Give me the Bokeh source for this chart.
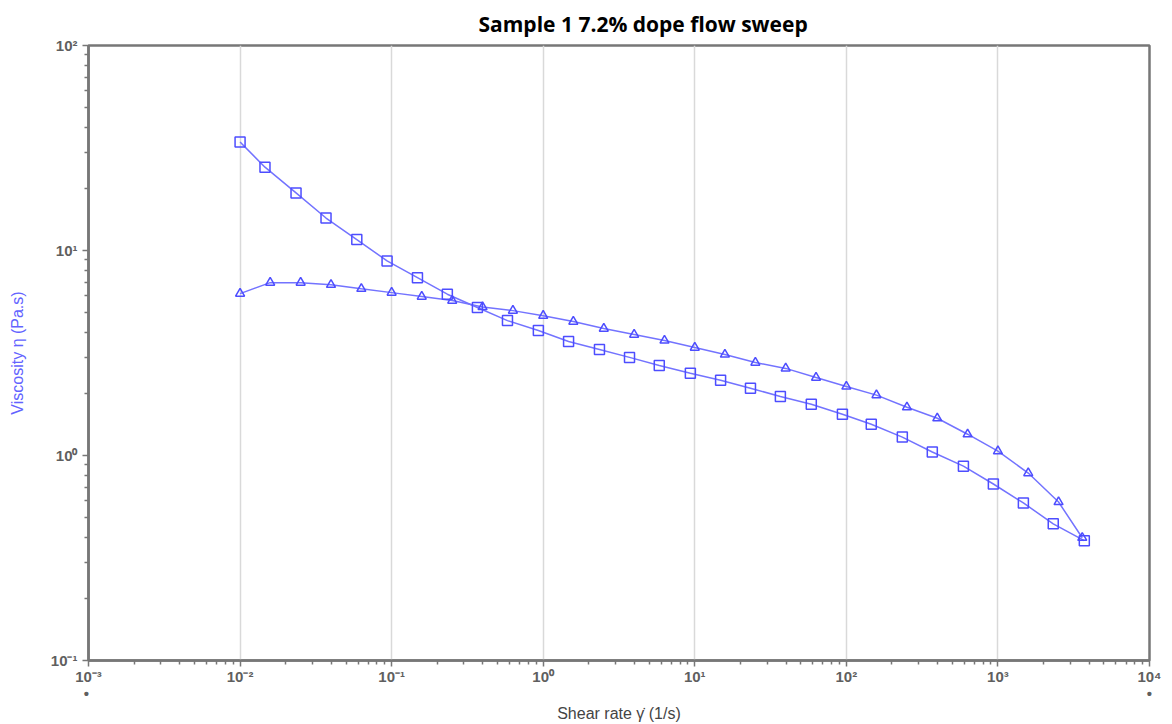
from bokeh.plotting import figure
from bokeh.models import FixedTicker, Range1d
from bokeh.embed import file_html
from bokeh.resources import INLINE

# ---- data ----
shear_sq = [0.01, 0.0146, 0.0234, 0.0369, 0.0589, 0.0933, 0.148, 0.233, 0.368, 0.581,
            0.929, 1.47, 2.35, 3.71, 5.83, 9.35, 14.8, 23.3, 36.7, 58.7,
            94.2, 146, 234, 369, 592, 933, 1472, 2317, 3715]
visc_sq = [33.8, 25.5, 19.1, 14.4, 11.3, 8.9, 7.37, 6.12, 5.27, 4.55,
           4.07, 3.60, 3.29, 3.01, 2.75, 2.52, 2.33, 2.13, 1.94, 1.78,
           1.59, 1.42, 1.23, 1.04, 0.887, 0.726, 0.587, 0.464, 0.384]

shear_tri = [0.01, 0.0158, 0.0251, 0.0398, 0.0631, 0.1, 0.158, 0.251, 0.398, 0.631,
             1.0, 1.58, 2.51, 3.98, 6.31, 10, 15.8, 25.1, 39.8, 63.1,
             100, 158, 251, 398, 631, 1000, 1585, 2512, 3600]
visc_tri = [6.16, 6.97, 6.97, 6.81, 6.51, 6.23, 5.96, 5.70, 5.30, 5.09,
            4.81, 4.50, 4.16, 3.89, 3.64, 3.36, 3.11, 2.84, 2.66, 2.40,
            2.17, 1.97, 1.72, 1.52, 1.27, 1.05, 0.821, 0.593, 0.397]

x_ticks = [1e-3, 1e-2, 1e-1, 1e0, 1e1, 1e2, 1e3, 1e4]
x_tick_labels = ["10⁻³\n •", "10⁻²", "10⁻¹", "10⁰", "10¹", "10²", "10³", "10⁴\n•"]
y_ticks = [1e-1, 1e0, 1e1, 1e2]
y_tick_labels = ["10⁻¹", "10⁰", "10¹", "10²"]

title_text = "Sample 1 7.2% dope flow sweep"
x_label = "Shear rate γ̇ (1/s)"
y_label = "Viscosity η (Pa.s)"

BLUE_LINE = "#7373ff"
BLUE_MARK = "#4d4dff"
AXIS = "#777777"
TICKLAB = "#5f5f5f"

p = figure(width=1172, height=724, x_axis_type="log", y_axis_type="log",
           x_range=Range1d(1e-3, 1e4), y_range=Range1d(1e-1, 1e2),
           output_backend="svg", toolbar_location=None,
           min_border_left=88, min_border_right=23, min_border_top=45, min_border_bottom=62,
           background_fill_color="white", border_fill_color="white")

p.title.text = title_text
p.title.align = "left"
p.title.offset = 390
p.title.standoff = 15
p.title.text_font = "Open Sans"
p.title.text_font_size = "21px"
p.title.text_font_style = "bold"
p.title.text_color = "black"

minor_x = [m * 10.0 ** e for e in range(-3, 4) for m in range(2, 10)]
minor_y = [m * 10.0 ** e for e in range(-1, 2) for m in range(2, 10)]
p.xaxis.ticker = FixedTicker(ticks=x_ticks, minor_ticks=minor_x)
p.yaxis.ticker = FixedTicker(ticks=y_ticks, minor_ticks=minor_y)
p.xaxis.major_label_overrides = {t: l for t, l in zip(x_ticks, x_tick_labels)}
p.yaxis.major_label_overrides = {t: l for t, l in zip(y_ticks, y_tick_labels)}

for ax in (p.xaxis[0], p.yaxis[0]):
    ax.axis_line_color = AXIS
    ax.axis_line_width = 2.5
    ax.major_tick_line_color = AXIS
    ax.minor_tick_line_color = AXIS
    ax.major_tick_line_width = 1.5
    ax.minor_tick_line_width = 1.5
    ax.major_tick_in = 0
    ax.major_tick_out = 6
    ax.minor_tick_in = 0
    ax.minor_tick_out = 4
    ax.major_label_text_font = "Liberation Sans"
    ax.major_label_text_font_size = "15px"
    ax.major_label_text_font_style = "bold"
    ax.major_label_text_color = TICKLAB
    ax.axis_label_text_font = "Liberation Sans"
    ax.axis_label_text_font_style = "normal"
    ax.axis_label_text_font_size = "16px"

p.yaxis.major_label_orientation = "horizontal"
p.yaxis.axis_label = y_label
p.yaxis.axis_label_text_color = "#6363ff"
p.yaxis.axis_label_standoff = 22
p.xaxis.axis_label = x_label
p.xaxis.axis_label_text_color = "#444444"
p.xaxis.axis_label_standoff = 0
p.xaxis.major_label_standoff = 1
p.xaxis.major_label_text_line_height = 1.0
p.xaxis.axis_label_text_line_height = 1.0

p.xgrid.grid_line_color = "#d9d9d9"
p.xgrid.grid_line_width = 1.5
p.ygrid.grid_line_color = None

p.outline_line_color = AXIS
p.outline_line_width = 2.5

p.line(shear_sq, visc_sq, line_color=BLUE_LINE, line_width=1.5)
p.line(shear_tri, visc_tri, line_color=BLUE_LINE, line_width=1.5)
p.scatter(shear_sq, visc_sq, marker="square", size=10, fill_color=None,
          line_color=BLUE_MARK, line_width=1.5)
p.scatter(shear_tri, visc_tri, marker="triangle", size=9, fill_color=None,
          line_color=BLUE_MARK, line_width=1.5)

open("out.html", "w").write(file_html(p, INLINE))
